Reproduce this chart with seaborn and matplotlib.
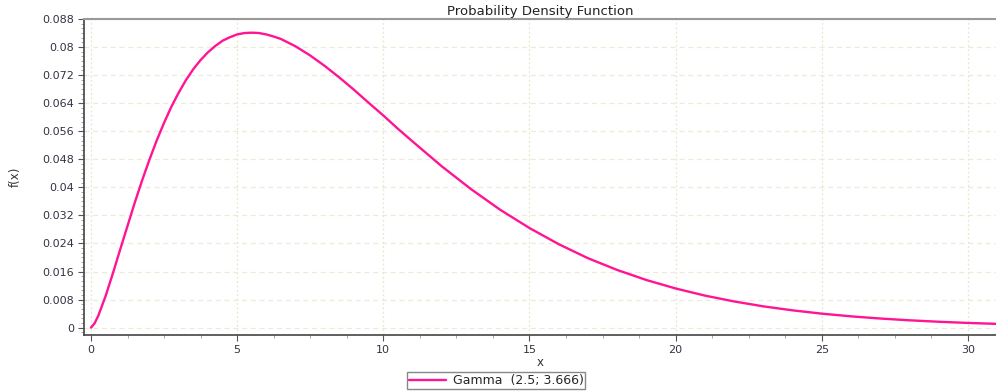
# Probability Density Function - Gamma (2.5; 3.666)

import pandas as pd
import matplotlib
matplotlib.use("Agg")
import matplotlib.pyplot as plt
import seaborn as sns
from matplotlib.ticker import MultipleLocator, AutoMinorLocator

# Valores
x_vals = [0, 0.125, 0.25, 0.5, 0.75, 1, 1.25, 1.5, 1.75, 2, 2.25, 2.5, 2.75, 3, 3.25, 3.5,
          3.75, 4, 4.25, 4.5, 4.75, 5, 5.25, 5.5, 5.75, 6, 6.25, 6.5, 7, 7.5, 8, 8.5,
          9, 9.5, 10, 10.5, 11, 12, 13, 14, 15, 16, 17, 18, 19, 20, 21, 22, 23, 24,
          25, 26, 27, 28, 29, 30, 31]
f_vals = [0.0, 0.00125, 0.0034, 0.0090, 0.0155, 0.0223, 0.0290, 0.0357, 0.0420, 0.0479,
          0.0534, 0.0584, 0.0630, 0.0670, 0.0706, 0.0737, 0.0763, 0.0785, 0.0803,
          0.0818, 0.0828, 0.0836, 0.0840, 0.0841, 0.0840, 0.0836, 0.0830, 0.0823,
          0.0802, 0.0776, 0.0746, 0.0713, 0.0678, 0.0641, 0.0605, 0.0567, 0.0531,
          0.0460, 0.0395, 0.0336, 0.0284, 0.0238, 0.0198, 0.01645, 0.01358, 0.01117,
          0.00914, 0.00747, 0.00607, 0.00493, 0.00399, 0.00322, 0.0026, 0.00209,
          0.00168, 0.00134, 0.00107]
serie = "Gamma  (2.5; 3.666)"

df = pd.DataFrame({"x": x_vals, "f": f_vals, "serie": serie})

sns.set_style("white")
plt.rcParams["font.family"] = ["DejaVu Sans"]

fig = plt.figure(figsize=(9.96, 3.92), dpi=100)
ax = fig.add_axes([0.0843, 0.1454, 0.9157, 0.8061])

sns.lineplot(data=df, x="x", y="f", hue="serie", palette=["#ff1493"], linewidth=1.7, ax=ax)

ax.set_xlim(-0.24, 30.96)
ax.set_ylim(-0.0021, 0.088)
ax.xaxis.set_major_locator(MultipleLocator(5))
ax.xaxis.set_minor_locator(AutoMinorLocator(4))
ax.set_yticks([0, 0.008, 0.016, 0.024, 0.032, 0.04, 0.048, 0.056, 0.064, 0.072, 0.08, 0.088])
ax.set_yticklabels(["0", "0.008", "0.016", "0.024", "0.032", "0.04", "0.048", "0.056",
                    "0.064", "0.072", "0.08", "0.088"])
ax.yaxis.set_minor_locator(AutoMinorLocator(6))

ax.grid(True, which="major", axis="y", linestyle=(0, (4, 3)), color="#ecebd8", linewidth=0.9)
ax.grid(True, which="major", axis="x", linestyle=(0, (1.5, 2)), color="#e6e6cc", linewidth=0.9)
ax.tick_params(which="major", direction="out", length=4, width=0.8, color="#555555",
               labelsize=8, labelcolor="#333344", left=True, bottom=True, pad=3)
ax.tick_params(which="minor", direction="out", length=2, width=0.6, color="#999999",
               left=True, bottom=True)

for s in ["left", "bottom"]:
    ax.spines[s].set_color("#444444")
    ax.spines[s].set_linewidth(1.2)
ax.spines["top"].set_color("#999999")
ax.spines["top"].set_linewidth(1.5)
ax.spines["right"].set_visible(False)

ax.set_title("Probability Density Function", fontsize=9.5, color="#222222", pad=3)
ax.set_xlabel("x", fontsize=8.5, color="#333333", labelpad=1)
ax.set_ylabel("f(x)", fontsize=8.5, color="#333333", labelpad=15)

ax.legend(loc="upper center", bbox_to_anchor=(0.452, -0.098), frameon=True, fancybox=False,
          fontsize=9, handlelength=3, edgecolor="#888888", borderpad=0.15,
          handletextpad=0.5, framealpha=1)

plt.savefig("out.png", dpi=100)
